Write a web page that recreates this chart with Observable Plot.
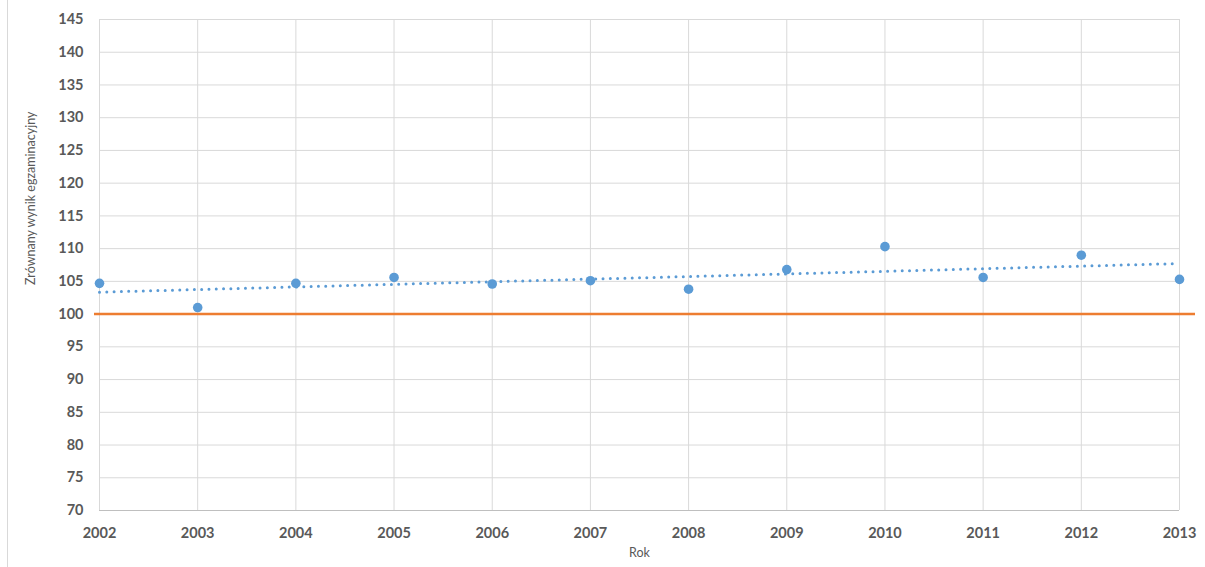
<!DOCTYPE html>
<html><head><meta charset="utf-8">
<script src="https://cdn.jsdelivr.net/npm/d3@7"></script>
<script src="https://cdn.jsdelivr.net/npm/@observablehq/plot@0.6"></script>
<style>
body{margin:0;background:#fff;}
#chart{position:relative;width:1205px;height:567px;}
#chart::before{content:"";position:absolute;left:7px;top:0;bottom:0;border-left:1px solid #d9d9d9;}
</style></head><body><div id="chart"></div>
<script>
const years = [2002, 2003, 2004, 2005, 2006, 2007, 2008, 2009, 2010, 2011, 2012, 2013];
const scores = [104.7, 101.0, 104.7, 105.6, 104.6, 105.1, 103.8, 106.8, 110.3, 105.6, 109.0, 105.3];
const baseline = [100];
const yTicks = [70, 75, 80, 85, 90, 95, 100, 105, 110, 115, 120, 125, 130, 135, 140, 145];
const xLabel = "Rok";
const yLabel = "Zrównany wynik egzaminacyjny";

const data = years.map((year, i) => ({year, score: scores[i]}));

const chart = Plot.plot({
  width: 1205,
  height: 567,
  marginLeft: 99,
  marginRight: 26,
  marginTop: 19,
  marginBottom: 57,
  style: {fontFamily: "Lato, sans-serif", background: "transparent", overflow: "visible"},
  x: {domain: [2002, 2013]},
  y: {domain: [70, 145]},
  marks: [
    Plot.gridY(yTicks, {stroke: "#d9d9d9", strokeOpacity: 1}),
    Plot.gridX(years, {stroke: "#d9d9d9", strokeOpacity: 1}),
    Plot.ruleY([70], {stroke: "#bfbfbf"}),
    Plot.axisY(yTicks, {tickSize: 0, tickPadding: 16, label: null, fontWeight: "bold", fontSize: 14.5, fill: "#595959"}),
    Plot.axisX(years, {tickSize: 0, tickPadding: 17, tickFormat: "d", label: null, fontWeight: "bold", fontSize: 14.5, fill: "#595959"}),
    Plot.text([xLabel], {frameAnchor: "bottom", dy: 46, fill: "#595959", fontSize: 12.5}),
    Plot.text([yLabel], {frameAnchor: "left", rotate: -90, dx: -69, dy: 20, fill: "#595959", fontSize: 12.5}),
    Plot.ruleY(baseline, {stroke: "#ed7d31", strokeWidth: 2.5, insetLeft: -5, insetRight: -16}),
    Plot.linearRegressionY(data, {x: "year", y: "score", stroke: "#5b9bd5", strokeWidth: 3, strokeDasharray: "0 7.3", strokeLinecap: "round", ci: 0}),
    Plot.dot(data, {x: "year", y: "score", r: 4.8, fill: "#5b9bd5"})
  ]
});
document.getElementById("chart").appendChild(chart);
</script></body></html>
